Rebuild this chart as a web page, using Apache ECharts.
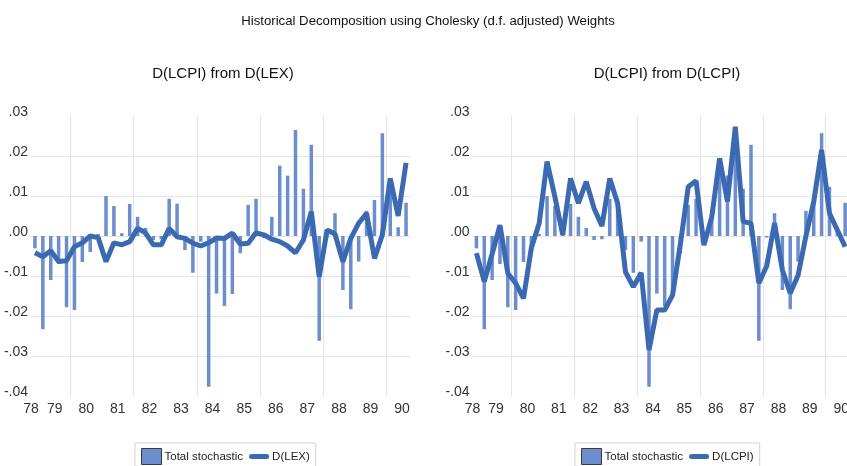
<!DOCTYPE html>
<html>
<head>
<meta charset="utf-8">
<script src="https://cdn.jsdelivr.net/npm/echarts@6/dist/echarts.min.js"></script>
<style>
  html, body { margin: 0; padding: 0; background: #fff; overflow: hidden; }
  /* the right panel runs a few pixels past the window edge, as in the original */
  #chart { width: 852px; height: 466px; }
</style>
</head>
<body>
<div id="chart"></div>
<script>
// quarterly sample, first observation 1978Q4
var startYear = 1978;
var startQuarter = 4;

var stochastic = [
  -0.0031, -0.0233, -0.0110, -0.0070, -0.0178, -0.0185, -0.0065, -0.0040,
   0.0005,  0.0100,  0.0075,  0.0007,  0.0080,  0.0048,  0.0020, -0.0010,
  -0.0008,  0.0093,  0.0081, -0.0035, -0.0092, -0.0014, -0.0377, -0.0144,
  -0.0175, -0.0145, -0.0043,  0.0078,  0.0093, -0.0005,  0.0048,  0.0176,
   0.0151,  0.0265,  0.0118,  0.0228, -0.0262, -0.0004,  0.0057, -0.0135,
  -0.0183, -0.0064,  0.0063,  0.0090,  0.0257,  0.0123,  0.0022,  0.0083
];

var fromLEX = [
  -0.0042, -0.0052, -0.0037, -0.0064, -0.0062, -0.0027, -0.0017,  0.0000,
  -0.0004, -0.0064, -0.0017, -0.0022, -0.0014,  0.0019,  0.0008, -0.0022,
  -0.0022,  0.0019, -0.0002, -0.0006, -0.0018, -0.0025, -0.0017, -0.0005,
  -0.0006,  0.0007, -0.0020, -0.0018,  0.0008,  0.0003, -0.0008, -0.0014,
  -0.0025, -0.0042, -0.0010,  0.0061, -0.0102,  0.0015,  0.0005, -0.0064,
  -0.0006,  0.0032,  0.0057, -0.0056,  0.0003,  0.0144,  0.0050,  0.0183
];

var fromLCPI = [
  -0.0043, -0.0114, -0.0045,  0.0027, -0.0093, -0.0118, -0.0156, -0.0030,
   0.0032,  0.0186,  0.0098,  0.0003,  0.0144,  0.0082,  0.0136,  0.0069,
   0.0025,  0.0144,  0.0082, -0.0090, -0.0127, -0.0092, -0.0285, -0.0185,
  -0.0185, -0.0148, -0.0020,  0.0123,  0.0138, -0.0023,  0.0048,  0.0194,
   0.0086,  0.0273,  0.0036,  0.0032, -0.0118, -0.0075,  0.0032, -0.0085,
  -0.0143, -0.0098,  0.0000,  0.0086,  0.0215,  0.0057,  0.0015, -0.0027
];

var yearLabels = ['78', '79', '80', '81', '82', '83', '84', '85', '86', '87', '88', '89', '90'];
var gridYears = [1980, 1982, 1984, 1986, 1988, 1990];

var FONT = "'Liberation Sans', Arial, sans-serif";
var BAR = '#6d8ecd';
var LINE = '#3b6ab3';

// x position of each quarter = middle of that quarter, in years
var xMin = startYear + (startQuarter - 1) / 4;
var xMax = xMin + stochastic.length / 4;
function pairs(vals) {
  return vals.map(function (v, i) { return [xMin + (i + 0.5) / 4, v]; });
}
// label values: first one sits at the axis start, others mid-year
var labelValues = yearLabels.map(function (y, i) {
  return i === 0 ? xMin : 1900 + parseInt(y, 10) + 0.5;
});

function yFmt(v) {
  var s = Math.abs(v).toFixed(2).replace(/^0/, '');
  return (v < -1e-9 ? '-' : '') + s;
}

function xAxis(gi) {
  return {
    type: 'value', gridIndex: gi, min: xMin, max: xMax,
    axisLine: { show: false },
    axisTick: { show: false, customValues: gridYears },
    splitLine: { show: true, lineStyle: { color: '#e4e4e4', width: 1 } },
    axisLabel: {
      customValues: labelValues,
      formatter: function (v) { return String(Math.round(Math.floor(v + 1e-6)) % 100); },
      fontFamily: FONT, fontSize: 14, color: '#333', margin: 6
    }
  };
}
function yAxis(gi) {
  return {
    type: 'value', gridIndex: gi, min: -0.04, max: 0.03, interval: 0.01,
    axisLine: { show: false }, axisTick: { show: false },
    splitLine: { show: true, showMinLine: false, showMaxLine: false, lineStyle: { color: '#e4e4e4', width: 1 } },
    axisLabel: {
      formatter: yFmt, fontFamily: FONT, fontSize: 14, color: '#333', margin: 3,
      verticalAlign: 'bottom', lineHeight: 8
    }
  };
}
function legend(left, lineName) {
  return {
    left: left, top: 443, orient: 'horizontal',
    borderColor: '#d4d4d4', borderWidth: 1, padding: [5, 6, 6, 6],
    itemWidth: 20, itemHeight: 16, itemGap: 6,
    textStyle: { fontFamily: FONT, fontSize: 11.5, color: '#222', padding: [0, 0, 0, -2] },
    data: [
      { name: 'Total stochastic', icon: 'rect', itemStyle: { borderColor: '#3a3a3a', borderWidth: 1 } },
      { name: lineName, icon: 'path://M3,0 L21,0 A3,3 0 0 1 21,6 L3,6 A3,3 0 0 1 3,0 Z' }
    ]
  };
}

var chart = echarts.init(document.getElementById('chart'), null, { renderer: 'canvas' });
chart.setOption({
  animation: false,
  backgroundColor: '#fff',
  title: [
    { text: 'Historical Decomposition using Cholesky (d.f. adjusted) Weights', left: 423, top: 10, textAlign: 'center',
      textStyle: { fontFamily: FONT, fontSize: 13.2, fontWeight: 'normal', color: '#111' } },
    { text: 'D(LCPI) from D(LEX)', left: 218, top: 61, textAlign: 'center',
      textStyle: { fontFamily: FONT, fontSize: 15, fontWeight: 'normal', color: '#111' } },
    { text: 'D(LCPI) from D(LCPI)', left: 662, top: 61, textAlign: 'center',
      textStyle: { fontFamily: FONT, fontSize: 15, fontWeight: 'normal', color: '#111' } }
  ],
  legend: [legend(135, 'D(LEX)'), legend(575, 'D(LCPI)')],
  grid: [
    { left: 31, width: 379, top: 116, bottom: 70, containLabel: false },
    { left: 472.5, width: 379, top: 116, bottom: 70, containLabel: false }
  ],
  xAxis: [xAxis(0), xAxis(1)],
  yAxis: [yAxis(0), yAxis(1)],
  series: [
    { name: 'Total stochastic', type: 'bar', xAxisIndex: 0, yAxisIndex: 0,
      barWidth: 3.5, itemStyle: { color: BAR }, data: pairs(stochastic) },
    { name: 'D(LEX)', type: 'line', xAxisIndex: 0, yAxisIndex: 0, showSymbol: false, symbol: 'none',
      lineStyle: { color: LINE, width: 5 }, itemStyle: { color: LINE }, data: pairs(fromLEX) },
    { name: 'Total stochastic', type: 'bar', xAxisIndex: 1, yAxisIndex: 1,
      barWidth: 3.5, itemStyle: { color: BAR }, data: pairs(stochastic) },
    { name: 'D(LCPI)', type: 'line', xAxisIndex: 1, yAxisIndex: 1, showSymbol: false, symbol: 'none',
      lineStyle: { color: LINE, width: 5 }, itemStyle: { color: LINE }, data: pairs(fromLCPI) }
  ]
});
</script>
</body>
</html>
